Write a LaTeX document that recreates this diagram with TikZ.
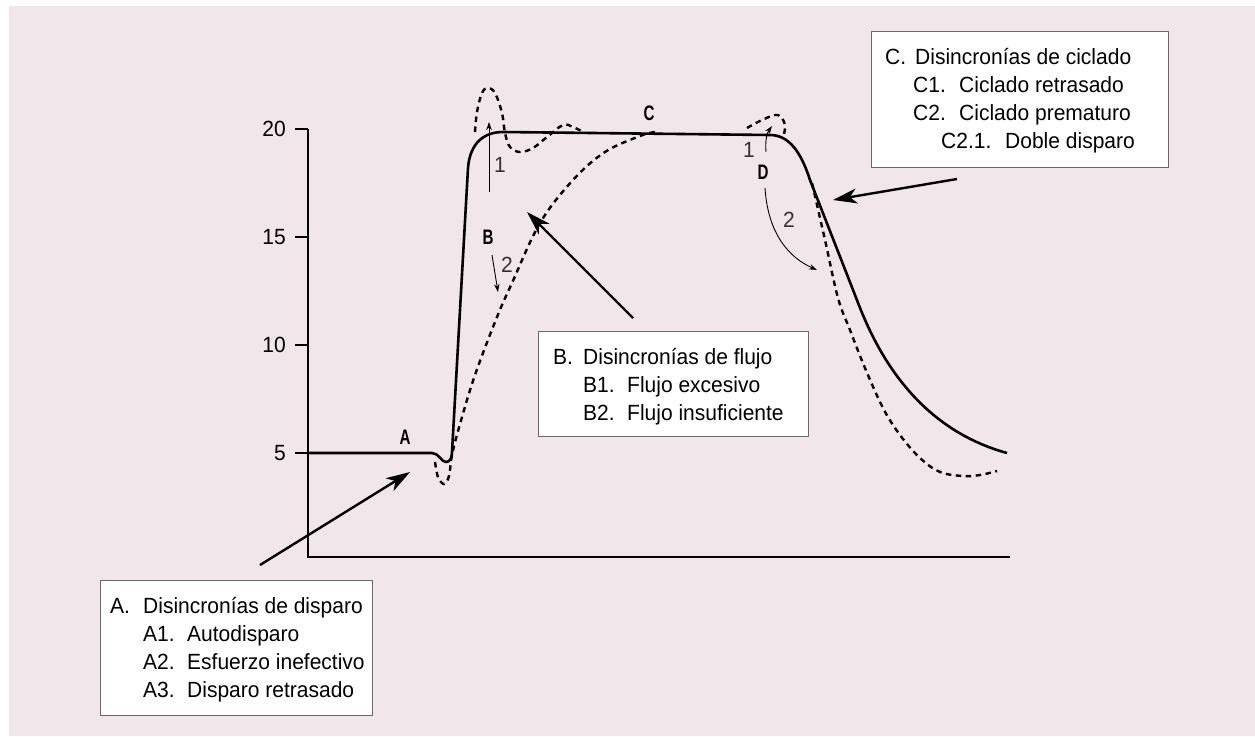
\documentclass[tikz,border=0pt]{standalone}
\usepackage{fontspec}
\setmainfont{Liberation Sans}[FakeStretch=0.955]
\newfontfamily\tagfont{Liberation Sans}[FakeStretch=0.72]
\usetikzlibrary{arrows.meta}
\definecolor{panel}{RGB}{241,230,234}
\definecolor{frame}{RGB}{105,105,105}

\begin{document}
\begin{tikzpicture}[x=1pt,y=-1pt,
  txt/.style={anchor=base west, inner sep=0pt, font=\fontsize{22}{26}\selectfont},
  num/.style={inner sep=0pt, font=\fontsize{22}{26}\selectfont, text=black!80},
  ticklbl/.style={anchor=east, inner sep=0pt, font=\fontsize{22}{26}\selectfont},
  tag/.style={inner sep=0pt, font=\tagfont\bfseries\fontsize{21}{24}\selectfont},
  axis/.style={line width=2.5pt, line join=miter},
  curve/.style={line width=2.6pt, line join=round},
  dash curve/.style={line width=2.4pt, dash pattern=on 5.5pt off 4.5pt},
  thin arrow/.style={line width=0.9pt, -{Stealth[length=8pt,width=5.5pt]}},
  big arrow/.style={line width=2.4pt, -{Stealth[length=24pt,width=15pt,inset=7pt]}},
  infobox/.style={draw=frame, fill=white, line width=1.3pt, inner sep=0pt, anchor=north west}
]
% canvas and panel
\useasboundingbox (0,0) rectangle (1255,736);
\fill[white] (0,0) rectangle (1255,736);
\fill[panel] (9,6) rectangle (1255,736);

% axes with ticks
\draw[axis] (308,129) -- (308,557) -- (1010,557);
\foreach \yy in {129,237,345,453} \draw[axis] (295,\yy) -- (308,\yy);
\node[ticklbl] (t20) at (286,129) {20};
\node[ticklbl] (t15) at (286,237) {15};
\node[ticklbl] (t10) at (286,345) {10};
\node[ticklbl] (t5)  at (286,453) {5};

% ventilator pressure curve
\draw[curve] (308,453) -- (432,453) .. controls (439,453) and (441,462) .. (446,462)
  .. controls (450,462) and (452,458) .. (452,452) -- (468,168)
  .. controls (470,142) and (485,132) .. (503,132) -- (770,135)
  .. controls (789,135) and (801,152) .. (810,180) -- (855,295)
  .. controls (869,332) and (905,425) .. (1007,453);

% patient curves (dashed)
\draw[dash curve] plot[smooth, tension=0.6] coordinates {(435,462) (438,477) (444,484) (449,476) (452,455) (460,424) (475,375) (497,317) (512,283) (540,223) (573,180) (605,152) (640,136) (655,132)};
\draw[dash curve] plot[smooth, tension=0.6] coordinates {(475,132) (477,112) (482,93) (488,88) (495,93) (502,113) (505,133) (510,147) (520,152) (533,148) (547,137) (563,125) (573,127) (583,132)};
\draw[dash curve] plot[smooth, tension=0.6] coordinates {(747,128) (760,121) (775,115) (782,118) (785,126) (784,134)};
\draw[dash curve] plot[smooth, tension=0.6] coordinates {(812,183) (825,240) (838,298) (850,330) (865,368) (883,408) (900,435) (920,458) (940,472) (963,476) (980,475) (997,471)};

% small markers
\coordinate (b1s) at (489,192); \coordinate (b1e) at (489,122);
\draw[thin arrow] (b1s) -- (b1e);
\coordinate (b2s) at (492,255); \coordinate (b2e) at (498,292);
\draw[thin arrow] (b2s) -- (b2e);
\coordinate (d1s) at (766,152); \coordinate (d1e) at (772,126);
\draw[thin arrow] (d1s) .. controls (765,140) and (767,133) .. (d1e);
\coordinate (d2s) at (765,188); \coordinate (d2e) at (817,270);
\draw[thin arrow] (d2s) .. controls (768,235) and (790,258) .. (d2e);

\node[num] (n1b) at (500,165) {1};
\node[num] (n2b) at (507,265) {2};
\node[num] (n1d) at (749,150) {1};
\node[num] (n2d) at (789,220) {2};

\node[tag] (tA) at (405,437) {A};
\node[tag] (tB) at (488,237) {B};
\node[tag] (tC) at (649,113) {C};
\node[tag] (tD) at (763,172) {D};

% legend boxes
\node[infobox, minimum width=272pt, minimum height=135pt] (boxA) at (100,580) {};
\node[infobox, minimum width=270pt, minimum height=105pt] (boxB) at (538,331) {};
\node[infobox, minimum width=297pt, minimum height=136pt] (boxC) at (871,31) {};

\node[txt] (a0l) at (110,613) {A.};
\node[txt] (a0)  at (143,613) {Disincronías de disparo};
\node[txt] (a1l) at (143,641) {A1.};
\node[txt] (a1)  at (187,641) {Autodisparo};
\node[txt] (a2l) at (143,669) {A2.};
\node[txt] (a2)  at (187,669) {Esfuerzo inefectivo};
\node[txt] (a3l) at (143,697) {A3.};
\node[txt] (a3)  at (187,697) {Disparo retrasado};

\node[txt] (b0l) at (553,364) {B.};
\node[txt] (b0)  at (583,364) {Disincronías de flujo};
\node[txt] (b1l) at (583,392) {B1.};
\node[txt] (b1)  at (627,392) {Flujo excesivo};
\node[txt] (b2l) at (583,420) {B2.};
\node[txt] (b2)  at (627,420) {Flujo insuficiente};

\node[txt] (c0l) at (885,64) {C.};
\node[txt] (c0)  at (915,64) {Disincronías de ciclado};
\node[txt] (c1l) at (913,92) {C1.};
\node[txt] (c1)  at (959,92) {Ciclado retrasado};
\node[txt] (c2l) at (913,120) {C2.};
\node[txt] (c2)  at (959,120) {Ciclado prematuro};
\node[txt] (c3l) at (941,148) {C2.1.};
\node[txt] (c3)  at (1005,148) {Doble disparo};

% pointers from the legend boxes
\coordinate (pA) at (260,565); \coordinate (hA) at (410,472);
\coordinate (pB) at (633,318); \coordinate (hB) at (527,212);
\coordinate (pC) at (957,179); \coordinate (hC) at (833,200);
\draw[big arrow] (pA) -- (hA);
\draw[big arrow] (pB) -- (hB);
\draw[big arrow] (pC) -- (hC);
\end{tikzpicture}
\end{document}
